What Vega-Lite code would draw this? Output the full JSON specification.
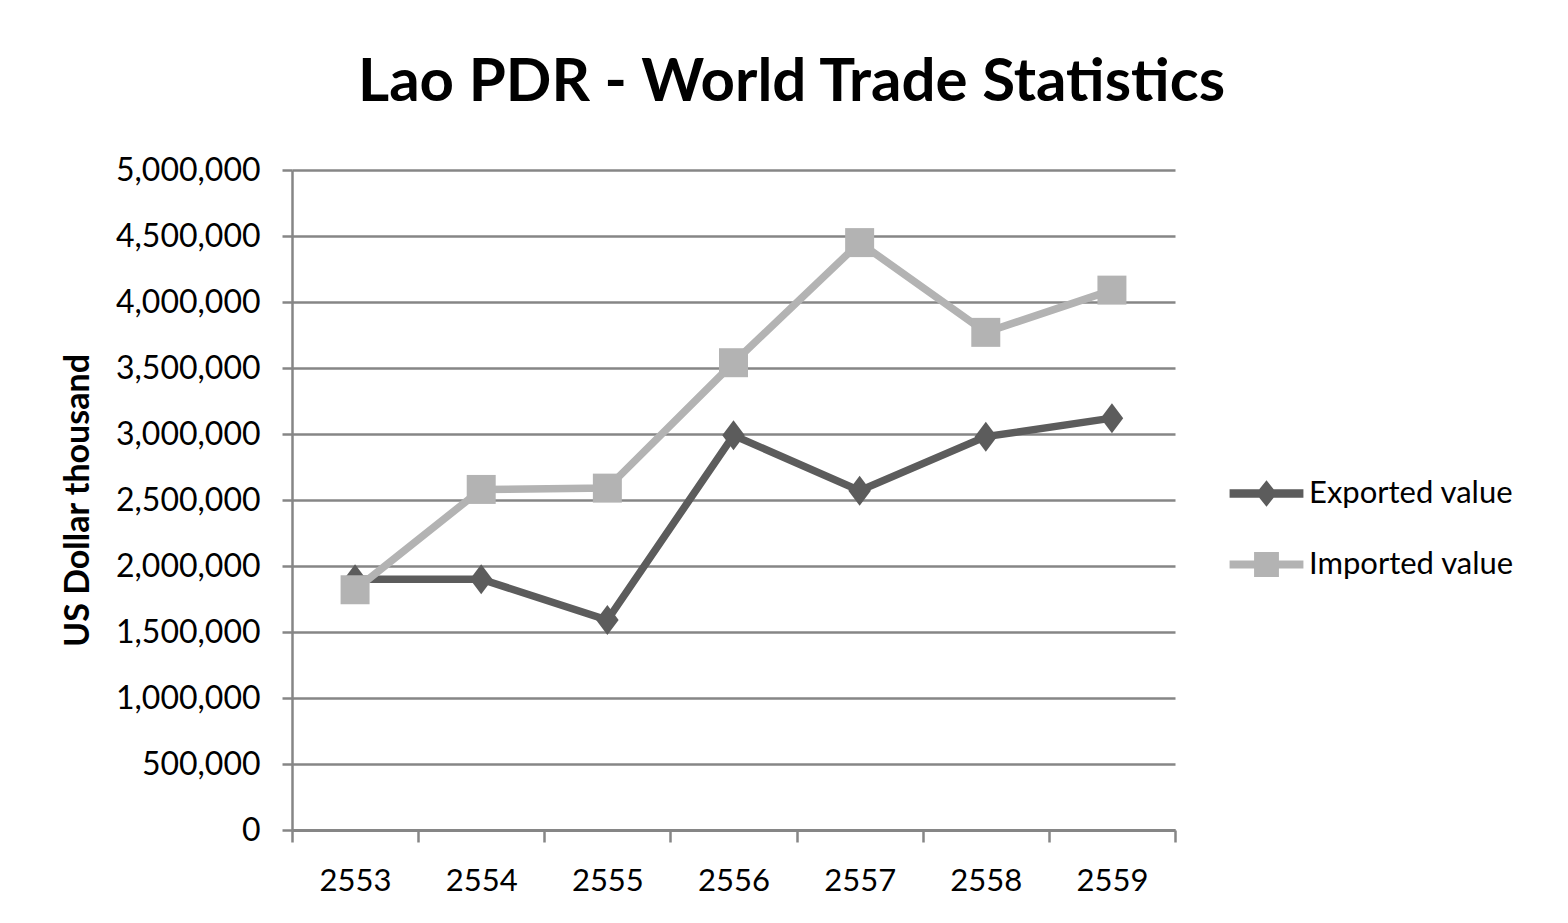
{
  "$schema": "https://vega.github.io/schema/vega-lite/v6.json",
  "autosize": {"type": "none"},
  "width": 883,
  "height": 660,
  "padding": {"left": 292, "top": 170, "right": 393, "bottom": 93},
  "background": "white",
  "title": {
    "text": "Lao PDR - World Trade Statistics",
    "font": "Lato",
    "fontSize": 60,
    "fontWeight": "bold",
    "color": "#000000",
    "anchor": "middle",
    "dx": 58,
    "baseline": "alphabetic",
    "offset": -7
  },
  "data": {
    "values": [
      {"year": "2553", "series": "Exported value", "value": 1900000},
      {"year": "2554", "series": "Exported value", "value": 1900000},
      {"year": "2555", "series": "Exported value", "value": 1590000},
      {"year": "2556", "series": "Exported value", "value": 2990000},
      {"year": "2557", "series": "Exported value", "value": 2570000},
      {"year": "2558", "series": "Exported value", "value": 2980000},
      {"year": "2559", "series": "Exported value", "value": 3120000},
      {"year": "2553", "series": "Imported value", "value": 1820000},
      {"year": "2554", "series": "Imported value", "value": 2580000},
      {"year": "2555", "series": "Imported value", "value": 2590000},
      {"year": "2556", "series": "Imported value", "value": 3540000},
      {"year": "2557", "series": "Imported value", "value": 4450000},
      {"year": "2558", "series": "Imported value", "value": 3770000},
      {"year": "2559", "series": "Imported value", "value": 4090000}
    ]
  },
  "encoding": {
    "x": {
      "field": "year",
      "type": "ordinal",
      "scale": {"type": "band", "paddingInner": 0, "paddingOuter": 0},
      "axis": {
        "title": null,
        "labelAngle": 0,
        "labelFont": "Lato",
        "labelFontSize": 31,
        "labelColor": "#000000",
        "labelPadding": 24,
        "tickBand": "extent",
        "tickSize": 12,
        "tickWidth": 2.5,
        "tickColor": "#868686",
        "domainColor": "#868686",
        "domainWidth": 3,
        "grid": false
      }
    },
    "y": {
      "field": "value",
      "type": "quantitative",
      "scale": {"domain": [0, 5000000], "nice": false},
      "axis": {
        "title": "US Dollar thousand",
        "titleFont": "Lato",
        "titleFontSize": 34,
        "titleFontWeight": "bold",
        "titleColor": "#000000",
        "titlePadding": 20,
        "values": [0, 500000, 1000000, 1500000, 2000000, 2500000, 3000000, 3500000, 4000000, 4500000, 5000000],
        "format": ",d",
        "labelFont": "Lato",
        "labelFontSize": 32,
        "labelColor": "#000000",
        "labelPadding": 22,
        "tickSize": 10,
        "tickWidth": 2.5,
        "tickColor": "#868686",
        "domainColor": "#868686",
        "domainWidth": 2.5,
        "grid": true,
        "gridColor": "#868686",
        "gridWidth": 2.5
      }
    },
    "color": {
      "field": "series",
      "type": "nominal",
      "scale": {"domain": ["Exported value", "Imported value"], "range": ["#5c5c5c", "#b3b3b3"]},
      "legend": {
        "title": null,
        "orient": "none",
        "legendX": 939,
        "legendY": 288,
        "labelFont": "Lato",
        "labelFontSize": 31,
        "labelColor": "#000000",
        "labelLimit": 600,
        "labelOffset": 7,
        "symbolSize": 5041,
        "rowPadding": 20,
        "encode": {
          "symbols": {
            "update": {
              "shape": {"signal": "datum.value === 'Exported value' ? 'M-1.04,-0.12H1.04V0.12H-1.04Z M0,-0.37L0.3,0L0,0.37L-0.3,0Z' : 'M-1.04,-0.11H1.04V0.11H-1.04Z M-0.35,-0.35H0.35V0.35H-0.35Z'"},
              "fill": {"signal": "datum.value === 'Exported value' ? '#5c5c5c' : '#b3b3b3'"},
              "stroke": {"value": "transparent"},
              "strokeWidth": {"value": 0},
              "opacity": {"value": 1},
              "fillOpacity": {"value": 1}
            }
          }
        }
      }
    }
  },
  "layer": [
    {
      "mark": {"type": "line", "strokeWidth": 7.5, "strokeJoin": "miter"}
    },
    {
      "transform": [{"filter": "datum.series === 'Exported value'"}],
      "mark": {"type": "point", "filled": true, "opacity": 1, "shape": "M0,-1L0.75,0L0,1L-0.75,0Z", "size": 900}
    },
    {
      "transform": [{"filter": "datum.series === 'Imported value'"}],
      "mark": {"type": "point", "filled": true, "opacity": 1, "shape": "square", "size": 840}
    }
  ],
  "config": {"view": {"stroke": null}}
}
